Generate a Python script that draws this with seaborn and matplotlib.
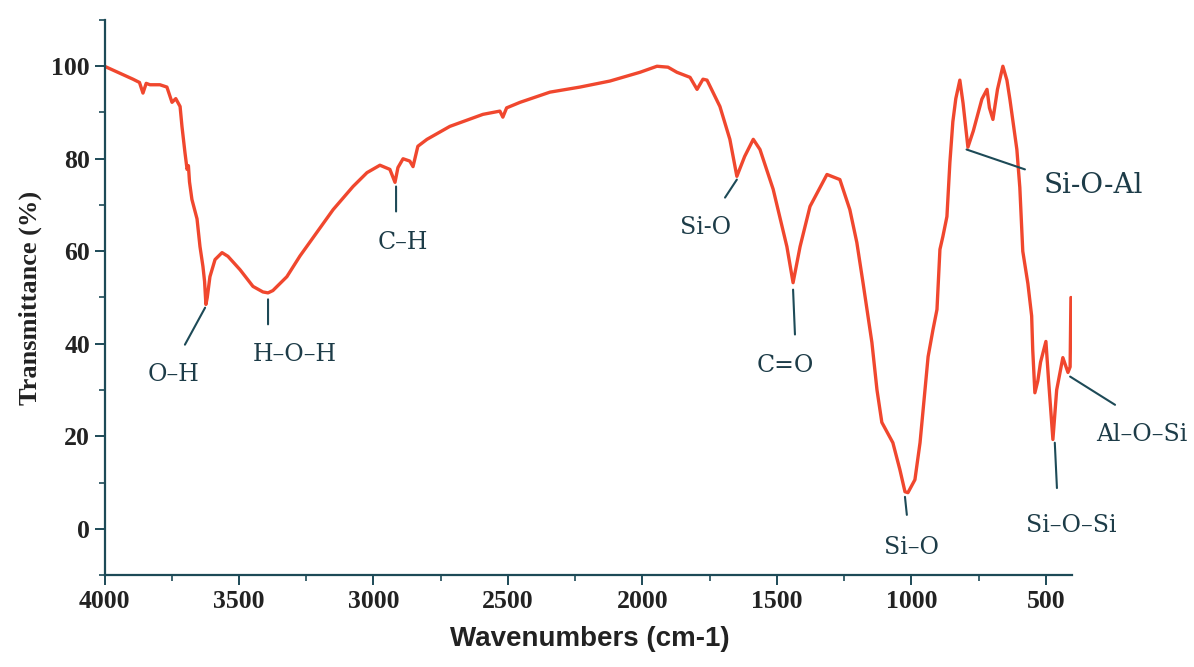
import matplotlib
matplotlib.use("Agg")
import matplotlib.pyplot as plt
from matplotlib.ticker import MultipleLocator
import seaborn as sns
import pandas as pd

# ---- data ----
wavenumber = [4000, 3894, 3870, 3857, 3845, 3831, 3794, 3768, 3749, 3735, 3719, 3712,
              3701, 3693, 3688, 3684, 3675, 3656, 3645, 3634, 3628, 3623, 3618, 3608,
              3589, 3563, 3541, 3496, 3448, 3411, 3392, 3374, 3322, 3273, 3150, 3076,
              3024, 2976, 2939, 2920, 2909, 2890, 2865, 2853, 2835, 2801, 2716, 2593,
              2530, 2519, 2505, 2455, 2344, 2232, 2121, 2009, 1946, 1905, 1872, 1823,
              1797, 1775, 1760, 1749, 1712, 1675, 1649, 1620, 1588, 1563, 1514, 1463,
              1440, 1414, 1377, 1314, 1266, 1229, 1203, 1180, 1147, 1128, 1110, 1069,
              1043, 1024, 1013, 987, 968, 938, 920, 905, 894, 883, 868, 857, 846, 835,
              820, 808, 790, 770, 738, 719, 710, 697, 680, 660, 645, 634, 608, 597,
              586, 567, 553, 549, 541, 530, 520, 500, 490, 474, 460, 437, 418, 410, 407]
transmittance = [100, 97.2, 96.5, 94.2, 96.3, 96, 96, 95.5, 92.2, 93, 91.3, 87,
                 81.4, 77.7, 78.5, 75, 71.2, 67, 61, 56.7, 53.5, 48.5, 50, 54.5,
                 58.2, 59.7, 58.9, 56, 52.4, 51.2, 51, 51.5, 54.5, 59, 69, 74,
                 77, 78.6, 77.7, 74.9, 78.1, 80, 79.5, 78.3, 82.7, 84.2, 87, 89.6,
                 90.3, 89, 91, 92.2, 94.4, 95.5, 96.8, 98.7, 100, 99.8, 98.7, 97.6,
                 95, 97.2, 97, 95.7, 91.3, 84.2, 76.2, 80.5, 84.2, 82, 73.4, 61,
                 53.2, 61, 69.7, 76.6, 75.5, 69, 61.9, 53.2, 40.3, 30, 23, 18.6,
                 12.8, 8, 7.8, 10.6, 18.6, 37.2, 43, 47.4, 60.4, 63.2, 67.5, 79.2, 88, 93,
                 97, 92, 82.5, 86, 92.9, 95, 91, 88.5, 95, 100, 97, 92.9, 82, 73.8,
                 60, 53, 46, 38.7, 29.4, 32, 36, 40.5, 32, 19.3, 30, 37, 33.8, 35, 50]

# band labels: text, peak (wn, T), line end (wn, T), text centre (wn, T)
band_labels = ["O\u2013H", "H\u2013O\u2013H", "C\u2013H", "Si-O", "C=O",
               "Si\u2013O", "Si-O-Al", "Al\u2013O\u2013Si", "Si\u2013O\u2013Si"]
band_peak_wn = [3626, 3392, 2916, 1649, 1440, 1024, 795, 410, 467]
band_peak_t = [47.8, 49.6, 74.0, 75.5, 51.7, 6.9, 82.0, 32.9, 18.6]
band_end_wn = [3701, 3392, 2916, 1693, 1433, 1017, 578, 243, 459]
band_end_t = [39.8, 44.2, 68.6, 71.6, 42.0, 3.0, 77.7, 26.8, 8.8]
band_text_wn = [3745, 3292, 2890, 1764, 1467, 998, 325, 142, 406]
band_text_t = [33.3, 37.7, 61.9, 65.2, 35.3, -4.1, 74.2, 20.3, 0.8]
band_text_size = [17, 17, 17, 17, 17, 17, 20, 17, 17]

x_ticks = [4000, 3500, 3000, 2500, 2000, 1500, 1000, 500]
y_ticks = [0, 20, 40, 60, 80, 100]

df = pd.DataFrame({"Wavenumber": wavenumber, "Transmittance": transmittance})

sns.set_theme(style="white")
plt.rcParams["font.family"] = ["Liberation Serif", "DejaVu Serif"]

axis_col = "#1d4a57"
text_col = "#1d3c48"
line_col = "#f0472e"

fig = plt.figure(figsize=(11.94, 6.67), dpi=100)
ax = fig.add_axes([104.5 / 1194, 1 - 575 / 667, 967.5 / 1194, 555 / 667])

sns.lineplot(data=df, x="Wavenumber", y="Transmittance", ax=ax, color=line_col,
             linewidth=2.4, estimator=None, sort=False)

ax.set_xlim(4000, 403)
ax.set_ylim(-10, 110)
ax.set_xticks(x_ticks)
ax.set_yticks(y_ticks)
ax.xaxis.set_minor_locator(MultipleLocator(250))
ax.yaxis.set_minor_locator(MultipleLocator(10))

for side in ["top", "right"]:
    ax.spines[side].set_visible(False)
for side in ["left", "bottom"]:
    ax.spines[side].set_color(axis_col)
    ax.spines[side].set_linewidth(1.6)

ax.tick_params(axis="both", which="major", direction="out", length=7, width=1.4,
               color=axis_col, labelsize=18.5, labelcolor="#222222", pad=3.5,
               bottom=True, left=True)
ax.tick_params(axis="both", which="minor", direction="out", length=4.5, width=1.2,
               color=axis_col, bottom=True, left=True)
for lab in ax.get_xticklabels() + ax.get_yticklabels():
    lab.set_fontweight("bold")
    lab.set_family(["Liberation Serif"])

ax.set_ylabel("Transmittance (%)", fontsize=19, fontweight="bold",
              family=["Liberation Serif"], color="#222222")
ax.yaxis.set_label_coords(-0.0646, 0.5)
ax.set_xlabel("Wavenumbers (cm-1)", fontsize=20, fontweight="bold",
              family=["Liberation Sans"], color="#222222")
ax.xaxis.set_label_coords(0.502, -0.092)

for lab, pw, pt, ew, et, tw, tt, fs in zip(band_labels, band_peak_wn, band_peak_t,
                                           band_end_wn, band_end_t, band_text_wn,
                                           band_text_t, band_text_size):
    ax.annotate("", xy=(pw, pt), xytext=(ew, et),
                arrowprops=dict(arrowstyle="-", color=axis_col, lw=1.5,
                                shrinkA=0, shrinkB=0),
                annotation_clip=False)
    ax.text(tw, tt, lab, ha="center", va="center", fontsize=fs, color=text_col,
            family=["DejaVu Serif"], clip_on=False)

fig.savefig("out.png", dpi=100)
